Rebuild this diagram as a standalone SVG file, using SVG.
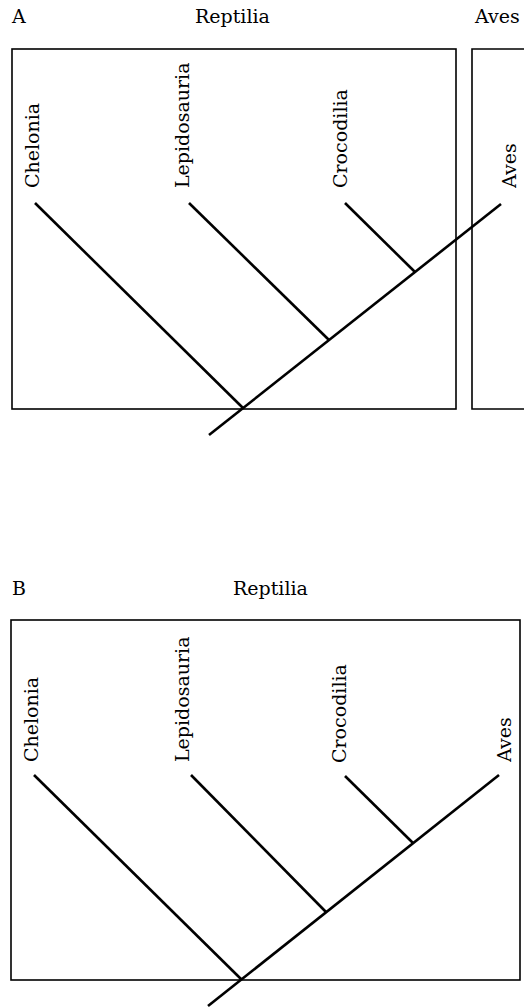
<svg xmlns="http://www.w3.org/2000/svg" width="524" height="1007" viewBox="0 0 524 1007">
<style>
.title{font-family:"DejaVu Serif","Liberation Serif",serif;font-size:19px;fill:#000}
.lab{font-family:"DejaVu Serif","Liberation Serif",serif;font-size:19px;fill:#000}
.box{fill:none;stroke:#000;stroke-width:1.6}
.br{fill:none;stroke:#000;stroke-width:2.6;stroke-linecap:butt}
</style>
<rect width="524" height="1007" fill="#fff"/>
<g id="panelA">
  <text class="title" x="12" y="23">A</text>
  <text class="title" x="195" y="23">Reptilia</text>
  <text class="title" x="475" y="23">Aves</text>
  <g id="boxA-reptilia"><rect class="box" x="12" y="49" width="444" height="360"/></g>
  <g id="boxA-aves"><path class="box" d="M530 49 H472 V409 H530"/></g>
  <g id="A-chelonia"><text class="lab" transform="translate(39,188) rotate(-90)">Chelonia</text></g>
  <g id="A-lepidosauria"><text class="lab" transform="translate(189,188) rotate(-90)">Lepidosauria</text></g>
  <g id="A-crocodilia"><text class="lab" transform="translate(347,188) rotate(-90)">Crocodilia</text></g>
  <g id="A-aves"><text class="lab" transform="translate(516,188) rotate(-90)">Aves</text></g>
  <g id="A-connectors">
    <line class="br" x1="209" y1="435" x2="501" y2="204"/>
    <line class="br" x1="35" y1="203" x2="243" y2="408"/>
    <line class="br" x1="189" y1="203" x2="329" y2="340"/>
    <line class="br" x1="345" y1="203" x2="415" y2="272"/>
  </g>
</g>
<g id="panelB">
  <text class="title" x="12" y="595">B</text>
  <text class="title" x="233" y="595">Reptilia</text>
  <g id="boxB-reptilia"><rect class="box" x="11" y="620" width="509" height="360"/></g>
  <g id="B-chelonia"><text class="lab" transform="translate(38,762) rotate(-90)">Chelonia</text></g>
  <g id="B-lepidosauria"><text class="lab" transform="translate(189,762) rotate(-90)">Lepidosauria</text></g>
  <g id="B-crocodilia"><text class="lab" transform="translate(346,763) rotate(-90)">Crocodilia</text></g>
  <g id="B-aves"><text class="lab" transform="translate(511,762) rotate(-90)">Aves</text></g>
  <g id="B-connectors">
    <line class="br" x1="208" y1="1006" x2="499" y2="775"/>
    <line class="br" x1="34" y1="775" x2="241" y2="979"/>
    <line class="br" x1="191" y1="775" x2="326" y2="912"/>
    <line class="br" x1="345" y1="776" x2="413" y2="843"/>
  </g>
</g>
</svg>
